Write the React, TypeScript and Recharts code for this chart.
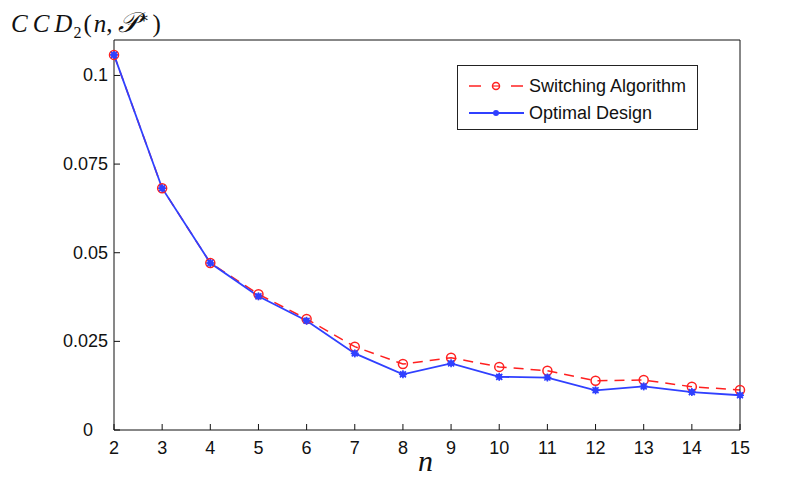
import { LineChart, Line, XAxis, YAxis } from "recharts";

const nValues = [2, 3, 4, 5, 6, 7, 8, 9, 10, 11, 12, 13, 14, 15];
const switchingValues = [0.1058, 0.0682, 0.0471, 0.0383, 0.0313, 0.0235, 0.0186, 0.0204, 0.0178, 0.0167, 0.0139, 0.0141, 0.0122, 0.0113];
const optimalValues = [0.1058, 0.0682, 0.0471, 0.0377, 0.0308, 0.0216, 0.0157, 0.0188, 0.015, 0.0148, 0.0112, 0.0123, 0.0107, 0.0098];
const yTicks = [0, 0.025, 0.05, 0.075, 0.1];

const RED = "#ff2020";
const BLUE = "#3040ff";
const TICK_FONT = "'Liberation Sans', Arial, sans-serif";
const MATH_FONT = "'Liberation Serif', 'DejaVu Serif', serif";

const chartData = nValues.map((n, i) => ({
  n,
  switching: switchingValues[i],
  optimal: optimalValues[i],
}));

const LeftTick = ({ x, y, payload }: any) => (
  <text
    x={payload.value === 0 ? x - 15 : x}
    y={y + 6}
    textAnchor="end"
    fontSize={18}
    fontFamily={TICK_FONT}
    fill="#111"
  >
    {payload.value}
  </text>
);

const BottomTick = ({ x, y, payload }: any) => (
  <text x={x} y={y + 20} textAnchor="middle" fontSize={18} fontFamily={TICK_FONT} fill="#111">
    {payload.value}
  </text>
);

const CircleDot = ({ cx, cy }: any) => (
  <circle cx={cx} cy={cy} r={4.5} fill="none" stroke={RED} strokeWidth={1.5} />
);

// MATLAB-ish '*' marker, drawn heavy so it reads as a dot
const StarDot = ({ cx, cy }: any) => (
  <g stroke={BLUE} strokeWidth={1.6} fill={BLUE}>
    <line x1={cx - 4} y1={cy} x2={cx + 4} y2={cy} />
    <line x1={cx} y1={cy - 4} x2={cx} y2={cy + 4} />
    <line x1={cx - 3} y1={cy - 3} x2={cx + 3} y2={cy + 3} />
    <line x1={cx - 3} y1={cy + 3} x2={cx + 3} y2={cy - 3} />
    <circle cx={cx} cy={cy} r={3} stroke="none" />
  </g>
);

const LegendBox = () => (
  <div
    style={{
      position: "absolute",
      left: 457,
      top: 65,
      width: 239,
      height: 63,
      border: "1px solid #222",
      background: "#fff",
    }}
  >
    <svg width={239} height={63} style={{ position: "absolute", left: 0, top: 0 }}>
      <line x1={11} y1={20} x2={23} y2={20} stroke={RED} strokeWidth={1.5} />
      <line x1={53} y1={20} x2={65} y2={20} stroke={RED} strokeWidth={1.5} />
      <circle cx={38} cy={20} r={3.5} fill="none" stroke={RED} strokeWidth={1.5} />
      <line x1={34.5} y1={20} x2={41.5} y2={20} stroke={RED} strokeWidth={1.2} />
      <line x1={11} y1={47} x2={66} y2={47} stroke={BLUE} strokeWidth={1.8} />
      <circle cx={38} cy={47} r={3} fill={BLUE} />
      <text x={71} y={26} fontSize={18} fontFamily={TICK_FONT} fill="#111">
        Switching Algorithm
      </text>
      <text x={71} y={53} fontSize={18} fontFamily={TICK_FONT} fill="#111">
        Optimal Design
      </text>
    </svg>
  </div>
);

export default function App() {
  return (
    <div style={{ position: "absolute", left: 0, top: 0, width: 805, height: 480, background: "#fff" }}>
      <LineChart
        width={805}
        height={480}
        data={chartData}
        margin={{ top: 39, right: 64, bottom: 0, left: 0 }}
      >
        <XAxis
          dataKey="n"
          type="number"
          domain={[2, 15]}
          ticks={nValues}
          height={50}
          stroke="#111"
          tickSize={-6}
          tickMargin={10}
          tick={<BottomTick />}
        />
        <XAxis
          xAxisId="top"
          dataKey="n"
          type="number"
          orientation="top"
          domain={[2, 15]}
          ticks={nValues}
          height={1}
          stroke="#111"
          tickSize={-6}
          tick={false}
        />
        <YAxis
          type="number"
          domain={[0, 0.11]}
          ticks={yTicks}
          width={114}
          stroke="#111"
          tickSize={-6}
          tickMargin={12}
          tick={<LeftTick />}
        />
        <YAxis
          yAxisId="right"
          orientation="right"
          type="number"
          domain={[0, 0.11]}
          ticks={yTicks}
          width={1}
          stroke="#111"
          tickSize={-6}
          tick={false}
        />
        <Line
          dataKey="switching"
          stroke={RED}
          strokeWidth={1.5}
          strokeDasharray="10 7"
          type="linear"
          dot={<CircleDot />}
          activeDot={false}
          isAnimationActive={false}
        />
        <Line
          dataKey="optimal"
          stroke={BLUE}
          strokeWidth={1.8}
          type="linear"
          dot={<StarDot />}
          activeDot={false}
          isAnimationActive={false}
        />
      </LineChart>
      <LegendBox />
      <div
        style={{
          position: "absolute",
          left: 11,
          top: 3,
          fontFamily: MATH_FONT,
          fontSize: 25,
          lineHeight: "30px",
          color: "#111",
          whiteSpace: "nowrap",
        }}
      >
        <i style={{ letterSpacing: 5 }}>CC</i>
        <i>D</i>
        <sub style={{ fontSize: 16, marginLeft: 1 }}>2</sub>
        <span style={{ marginLeft: 2 }}>(</span>
        <i style={{ marginLeft: 2 }}>n</i>
        <span style={{ marginRight: 5 }}>,</span>
        <i style={{ fontSize: 28 }}>𝒫</i>
        <sup style={{ fontSize: 16, marginLeft: 1 }}>∗</sup>
        <span style={{ marginLeft: 3 }}>)</span>
      </div>
      <div
        style={{
          position: "absolute",
          left: 418,
          top: 444,
          fontFamily: MATH_FONT,
          fontStyle: "italic",
          fontSize: 30,
          color: "#111",
        }}
      >
        n
      </div>
    </div>
  );
}
